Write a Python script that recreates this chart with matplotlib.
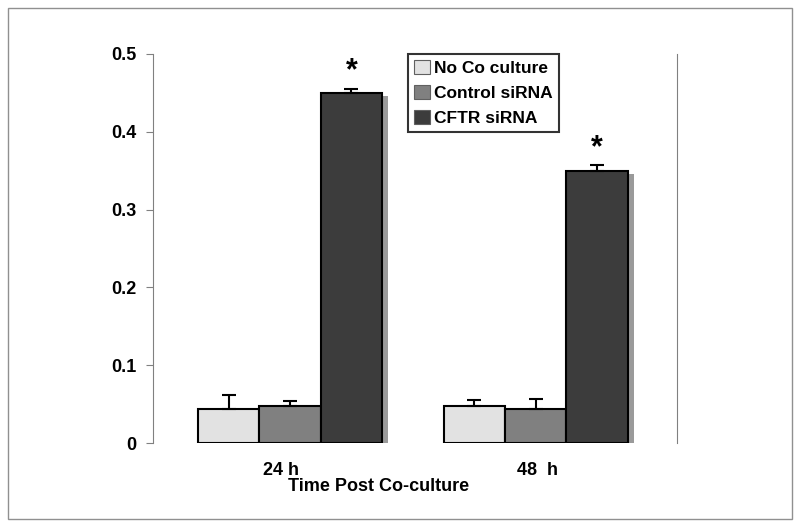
import numpy as np
import matplotlib.pyplot as plt
from matplotlib.patches import Rectangle

plt.rcParams['font.family'] = ['Liberation Sans', 'DejaVu Sans']

groups = ['24 h', '48  h']
series = ['No Co culture', 'Control siRNA', 'CFTR siRNA']
vals = [[0.044, 0.047, 0.450],   # 24 h
        [0.047, 0.044, 0.350]]   # 48 h
errs = [[0.018, 0.007, 0.005],
        [0.008, 0.013, 0.007]]
colors = ['#e2e2e2', '#808080', '#3c3c3c']

fig = plt.figure(figsize=(8, 5.27), dpi=100)
# outer frame
fig.patches.append(Rectangle((8/800, 8/527), 784/800, 511/527, transform=fig.transFigure,
                             fill=False, edgecolor='#909090', lw=1))
ax = fig.add_axes([153/800, 84/527, 524/800, 389/527])

for g in range(len(groups)):
    for s in range(len(series)):
        x = g * 4 + s
        v = vals[g][s]
        # drop shadow
        ax.bar(x + 0.1, v, width=1, bottom=-0.004, color='#9a9a9a', lw=0, zorder=1)
        ax.bar(x, v, width=1, color=colors[s], edgecolor='black', lw=1.5, zorder=2,
               label=series[s] if g == 0 else None)
        ax.errorbar(x, v, yerr=[[0], [errs[g][s]]], fmt='none', ecolor='black',
                    elinewidth=1.5, capsize=5, capthick=1.5, zorder=3)
    # significance star on CFTR bar
    ax.text(g * 4 + 2, vals[g][2] + errs[g][2] + 0.003, '*', ha='center', va='bottom',
            fontsize=22, fontweight='bold')

ax.set_xlim(-1.23, 7.3)
ax.set_ylim(0, 0.5)
ax.set_yticks(np.arange(0, 0.51, 0.1))
ax.set_yticklabels(['0', '0.1', '0.2', '0.3', '0.4', '0.5'])
ax.set_xticks([0.85, 5.03])
ax.set_xticklabels(groups)
ax.tick_params(axis='x', length=0, pad=14)
ax.tick_params(axis='y', length=5, color='#808080', pad=7)
for lab in ax.get_xticklabels() + ax.get_yticklabels():
    lab.set_fontweight('bold')
    lab.set_fontsize(13)
ax.set_xlabel('Time Post Co-culture', fontsize=13, fontweight='bold', labelpad=0)
ax.xaxis.set_label_coords(0.43, -0.09)

for side in ['top', 'bottom']:
    ax.spines[side].set_visible(False)
ax.spines['left'].set_color('#808080')
ax.spines['right'].set_color('#808080')

leg = ax.legend(loc='upper left', bbox_to_anchor=(0.487, 1.0), frameon=True, fancybox=False,
                edgecolor='black', handlelength=0.9, handleheight=0.9, handletextpad=0.25,
                borderpad=0.35, labelspacing=0.5, borderaxespad=0,
                prop={'weight': 'bold', 'size': 12.5})
leg.get_frame().set_linewidth(1.5)
for h in leg.legend_handles:
    h.set_linewidth(0.8)
    h.set_edgecolor('#606060')

fig.savefig('out.png', dpi=100)
